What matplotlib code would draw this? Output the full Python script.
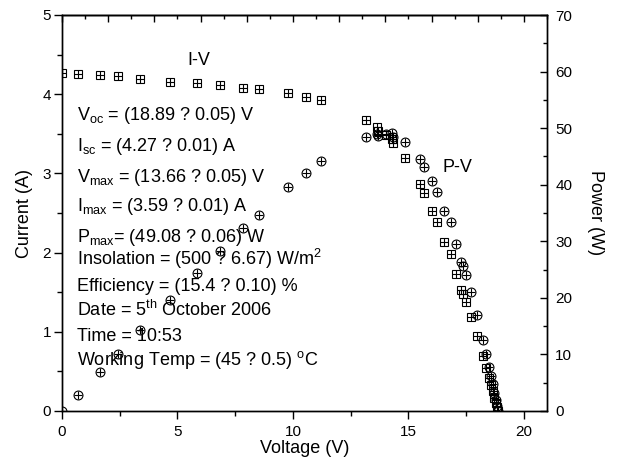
import matplotlib
matplotlib.use("Agg")
import matplotlib.pyplot as plt
from matplotlib.ticker import MultipleLocator, NullFormatter

plt.rcParams['font.family'] = ['Liberation Sans', 'DejaVu Sans']
plt.rcParams['mathtext.fontset'] = 'custom'
plt.rcParams['mathtext.rm'] = 'Liberation Sans'
plt.rcParams['mathtext.it'] = 'Liberation Sans:italic'
plt.rcParams['mathtext.bf'] = 'Liberation Sans:bold'

# ---- data ----
voltage = [0.00, 0.69, 1.65, 2.42, 3.38, 4.66, 5.84, 6.84, 7.84, 8.54, 9.79,
           10.58, 11.23, 13.17, 13.65, 13.70, 14.02, 14.30, 14.33, 14.86,
           15.50, 15.68, 16.00, 16.22, 16.54, 16.84, 17.06, 17.27, 17.35,
           17.49, 17.73, 17.98, 18.24, 18.38, 18.50, 18.58, 18.65, 18.72,
           18.78, 18.83, 18.89]
current = [4.27, 4.25, 4.24, 4.23, 4.19, 4.16, 4.14, 4.12, 4.08, 4.07, 4.02,
           3.97, 3.93, 3.68, 3.59, 3.54, 3.49, 3.44, 3.38, 3.19,
           2.87, 2.75, 2.53, 2.39, 2.14, 1.98, 1.73, 1.53, 1.48,
           1.38, 1.19, 0.95, 0.69, 0.54, 0.42, 0.33, 0.25, 0.17,
           0.10, 0.05, 0.00]
power = [0.0, 2.8, 6.9, 10.1, 14.3, 19.6, 24.4, 28.2, 32.3, 34.7, 39.6,
         42.1, 44.2, 48.4, 48.9, 48.6, 48.9, 49.2, 48.4, 47.5,
         44.6, 43.2, 40.6, 38.8, 35.4, 33.4, 29.5, 26.4, 25.7,
         24.0, 21.0, 17.0, 12.6, 10.0, 7.8, 6.1, 4.7, 3.2,
         1.9, 0.9, 0.0]

info_lines = [
    r'V$_\mathrm{oc}$ = (18.89 ? 0.05) V',
    r'I$_\mathrm{sc}$ = (4.27 ? 0.01) A',
    r'V$_\mathrm{max}$ = (13.66 ? 0.05) V',
    r'I$_\mathrm{max}$ = (3.59 ? 0.01) A',
    r'P$_\mathrm{max}$= (49.08 ? 0.06) W',
    r'Insolation = (500 ? 6.67) W/m$^\mathrm{2}$',
    r'Efficiency = (15.4 ? 0.10) %',
    r'Date = 5$^\mathrm{th}$ October 2006',
    r'Time = 10:53',
    r'Working Temp = (45 ? 0.5) $^\mathrm{o}$C',
]
info_y = [3.675, 3.28, 2.895, 2.53, 2.14, 1.84, 1.51, 1.195, 0.89, 0.575]

W, H = 618, 470
fig = plt.figure(figsize=(W / 100, H / 100), dpi=100)
ax = fig.add_axes([62 / W, 1 - 411 / H, (547 - 62) / W, (411 - 15) / H])
ax2 = ax.twinx()

ax.set_xlim(0, 21)
ax.set_ylim(0, 5)
ax2.set_ylim(0, 70)

# I-V squares with cross
ax.plot(voltage, current, ls='none', marker='s', ms=5.5, mfc='none',
        mec='black', mew=0.8, zorder=3)
ax.plot(voltage, current, ls='none', marker='+', ms=5.5, mec='black',
        mew=0.8, zorder=3)
# P-V circles with cross
ax2.plot(voltage, power, ls='none', marker='o', ms=6.4, mfc='none',
         mec='black', mew=0.8, zorder=3)
ax2.plot(voltage, power, ls='none', marker='+', ms=6.4, mec='black',
         mew=0.8, zorder=3)

for s in list(ax.spines.values()) + list(ax2.spines.values()):
    s.set_linewidth(1.0)

ax.xaxis.set_major_locator(MultipleLocator(5))
ax.xaxis.set_minor_locator(MultipleLocator(2.5))
ax.yaxis.set_major_locator(MultipleLocator(1))
ax.yaxis.set_minor_locator(MultipleLocator(0.5))
ax2.yaxis.set_major_locator(MultipleLocator(10))
ax2.yaxis.set_minor_locator(MultipleLocator(5))

ax.tick_params(axis='x', which='major', direction='out', length=6, width=1,
               top=False, labelsize=11, pad=4)
ax.tick_params(axis='x', which='minor', direction='out', length=3.5, width=1,
               top=False)
ax.tick_params(axis='y', which='major', direction='out', length=6, width=1,
               right=False, labelsize=11, pad=2)
ax.tick_params(axis='y', which='minor', direction='out', length=3.5, width=1,
               right=False)
ax2.tick_params(axis='y', which='major', direction='in', length=5, width=1,
                left=False, labelsize=11, pad=6)
ax2.tick_params(axis='y', which='minor', direction='in', length=3, width=1,
                left=False)

sec = ax.secondary_xaxis('top')
sec.xaxis.set_major_locator(MultipleLocator(2))
sec.xaxis.set_minor_locator(MultipleLocator(1))
sec.xaxis.set_major_formatter(NullFormatter())
sec.tick_params(axis='x', which='major', direction='in', length=5, width=1)
sec.tick_params(axis='x', which='minor', direction='in', length=3, width=1)
sec.spines['top'].set_linewidth(1.0)

ax.set_xlabel('Voltage (V)', fontsize=13, labelpad=1)
ax.set_ylabel('Current (A)', fontsize=13, labelpad=7)
ax2.set_ylabel('Power (W)', fontsize=13, rotation=270, labelpad=23)

ax.text(5.41, 4.37, 'I-V', fontsize=13, ha='left', va='baseline')
ax.text(16.49, 3.02, 'P-V', fontsize=13, ha='left', va='baseline')
for txt, yy in zip(info_lines, info_y):
    ax.text(0.65, yy, txt, fontsize=13, ha='left', va='baseline')

fig.savefig('out.png', dpi=100)
